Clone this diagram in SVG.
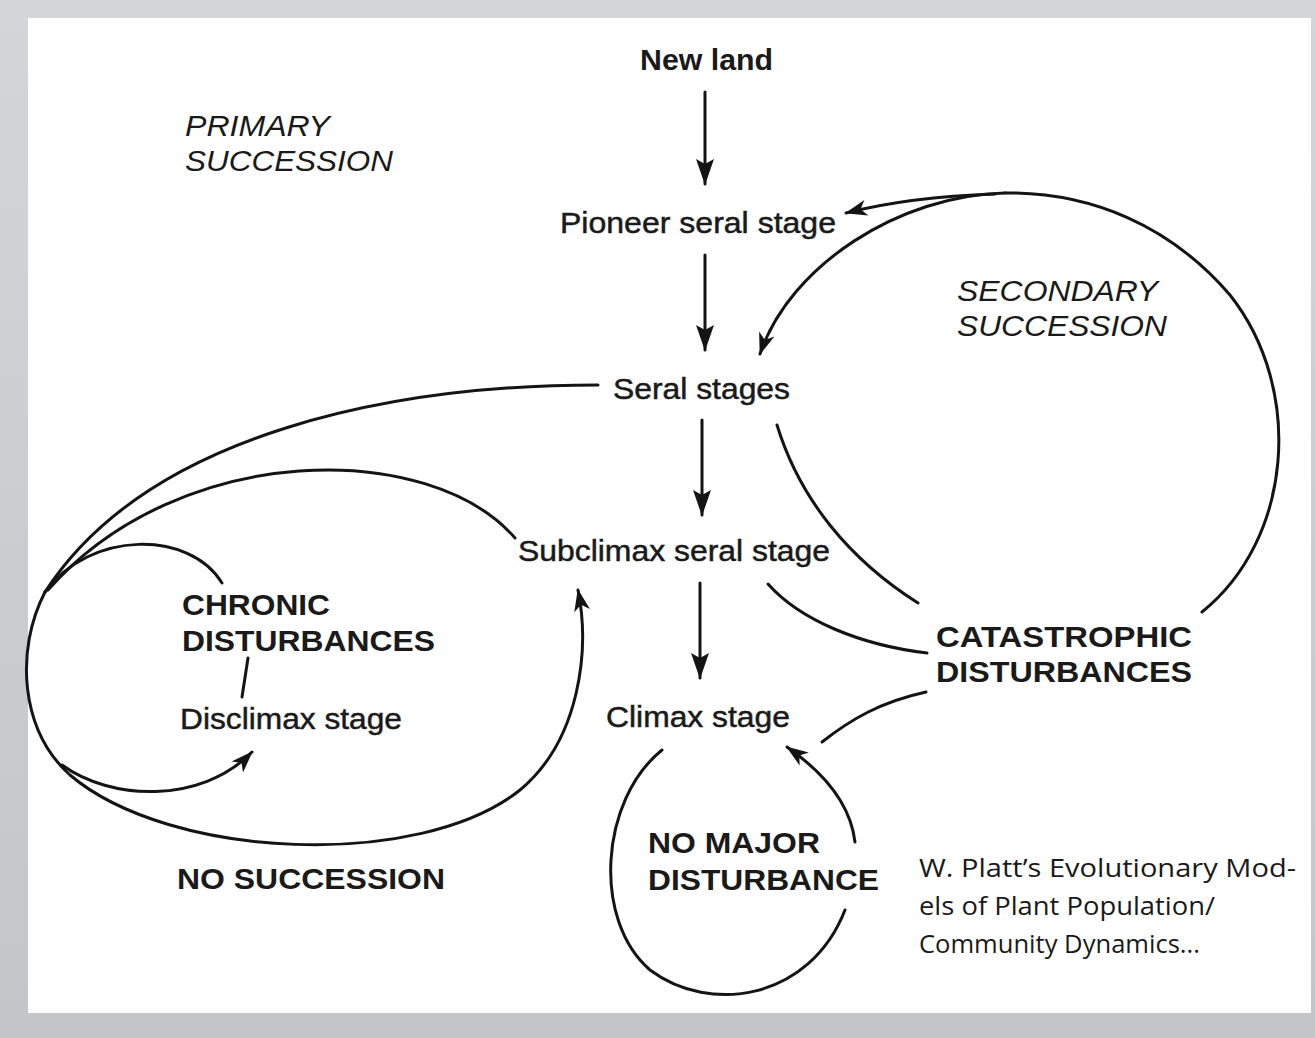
<svg xmlns="http://www.w3.org/2000/svg" width="1315" height="1038" viewBox="0 0 1315 1038">
<defs>
<linearGradient id="bg" x1="0" y1="0" x2="0" y2="1">
<stop offset="0" stop-color="#d4d5d7"/>
<stop offset="1" stop-color="#c4c5c7"/>
</linearGradient>
<marker id="ah" markerUnits="userSpaceOnUse" viewBox="-26 -10 28 20" refX="0" refY="0" markerWidth="28" markerHeight="20" orient="auto">
<path d="M1,0 L-25,-9 L-20,0 L-25,9 Z" fill="#141414"/>
</marker>
<marker id="ahs" markerUnits="userSpaceOnUse" viewBox="-22 -9 24 18" refX="0" refY="0" markerWidth="24" markerHeight="18" orient="auto">
<path d="M1,0 L-21,-8 L-15,0 L-21,8 Z" fill="#141414"/>
</marker>
</defs>
<style>
.lbl{font-family:"Liberation Sans",Arial,sans-serif;font-size:30px;fill:#1a1a1a;}
.reg{stroke:#1a1a1a;stroke-width:0.5px;}
.b{font-weight:bold;}
.it{font-style:italic;}
.cite{font-family:"Open Sans","Noto Sans",sans-serif;font-size:25px;fill:#1a1a1a;}
.ln{fill:none;stroke:#141414;stroke-width:3;stroke-linecap:round;}
</style>
<rect x="0" y="0" width="1315" height="1038" fill="url(#bg)"/>
<rect x="28" y="18" width="1283" height="995" fill="#ffffff"/>

<g id="connectors">
<path class="ln" d="M705 92 L705 184" marker-end="url(#ah)"/>
<path class="ln" d="M705 255 L705 350" marker-end="url(#ah)"/>
<path class="ln" d="M702 420 L702 515" marker-end="url(#ah)"/>
<path class="ln" d="M700 583 L700 678" marker-end="url(#ah)"/>
<path class="ln" d="M1202 612 C1292 540 1305 390 1230 295 C1170 225 1090 192 1005 193"/>
<path class="ln" d="M1005 193 C900 195 790 265 760 354" marker-end="url(#ahs)"/>
<path class="ln" d="M995 194 C935 196 885 203 846 213" marker-end="url(#ahs)"/>
<path class="ln" d="M777 425 C800 500 850 560 918 603"/>
<path class="ln" d="M768 584 C800 620 860 645 927 653"/>
<path class="ln" d="M926 692 C880 702 850 720 822 742"/>
<path class="ln" d="M662 750 C600 800 592 920 650 970 C710 1015 810 1000 845 910"/>
<path class="ln" d="M855 842 C850 800 820 770 787 747" marker-end="url(#ahs)"/>
<path class="ln" d="M598 385 C400 385 150 430 45 592"/>
<path class="ln" d="M515 538 C430 440 180 440 48 590"/>
<path class="ln" d="M222 583 C190 530 90 530 45 592"/>
<path class="ln" d="M45 592 C15 650 20 730 70 775 C170 860 420 870 520 790 C580 740 590 650 578 590" marker-end="url(#ahs)"/>
<path class="ln" d="M62 765 C110 800 200 805 252 752" marker-end="url(#ahs)"/>
<path class="ln" d="M248 658 L242 697"/>
</g>

<g id="new-land"><text class="lbl b" x="640" y="70" textLength="133" lengthAdjust="spacingAndGlyphs">New land</text></g>
<g id="pioneer"><text class="lbl reg" x="560" y="233" textLength="276" lengthAdjust="spacingAndGlyphs">Pioneer seral stage</text></g>
<g id="seral"><text class="lbl reg" x="613" y="399" textLength="177" lengthAdjust="spacingAndGlyphs">Seral stages</text></g>
<g id="subclimax"><text class="lbl reg" x="518" y="561" textLength="312" lengthAdjust="spacingAndGlyphs">Subclimax seral stage</text></g>
<g id="climax"><text class="lbl reg" x="606" y="727" textLength="184" lengthAdjust="spacingAndGlyphs">Climax stage</text></g>
<g id="primary"><text class="lbl it" x="185" y="136" textLength="145" lengthAdjust="spacingAndGlyphs">PRIMARY</text><text class="lbl it" x="185" y="171" textLength="208" lengthAdjust="spacingAndGlyphs">SUCCESSION</text></g>
<g id="secondary"><text class="lbl it" x="957" y="301" textLength="201" lengthAdjust="spacingAndGlyphs">SECONDARY</text><text class="lbl it" x="957" y="336" textLength="210" lengthAdjust="spacingAndGlyphs">SUCCESSION</text></g>
<g id="chronic"><text class="lbl b" x="182" y="615" textLength="148" lengthAdjust="spacingAndGlyphs">CHRONIC</text><text class="lbl b" x="182" y="651" textLength="253" lengthAdjust="spacingAndGlyphs">DISTURBANCES</text></g>
<g id="disclimax"><text class="lbl reg" x="180" y="729" textLength="222" lengthAdjust="spacingAndGlyphs">Disclimax stage</text></g>
<g id="no-succession"><text class="lbl b" x="177" y="889" textLength="268" lengthAdjust="spacingAndGlyphs">NO SUCCESSION</text></g>
<g id="catastrophic"><text class="lbl b" x="936" y="647" textLength="256" lengthAdjust="spacingAndGlyphs">CATASTROPHIC</text><text class="lbl b" x="936" y="682" textLength="256" lengthAdjust="spacingAndGlyphs">DISTURBANCES</text></g>
<g id="no-major"><text class="lbl b" x="648" y="853" textLength="172" lengthAdjust="spacingAndGlyphs">NO MAJOR</text><text class="lbl b" x="648" y="890" textLength="231" lengthAdjust="spacingAndGlyphs">DISTURBANCE</text></g>
<g id="citation"><text class="cite" x="919" y="877" textLength="377" lengthAdjust="spacingAndGlyphs">W. Platt’s Evolutionary Mod-</text><text class="cite" x="919" y="915" textLength="296" lengthAdjust="spacingAndGlyphs">els of Plant Population/</text><text class="cite" x="919" y="953" textLength="281" lengthAdjust="spacingAndGlyphs">Community Dynamics...</text></g>
</svg>
